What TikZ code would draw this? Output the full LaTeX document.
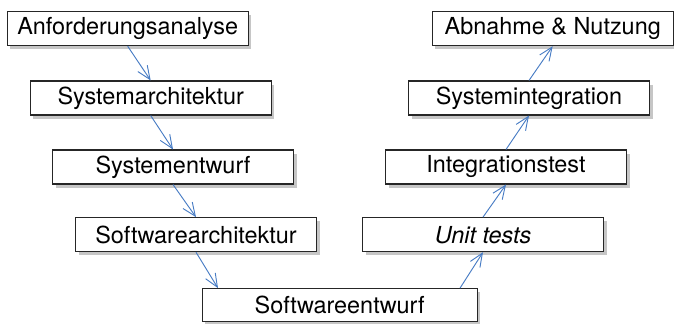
\documentclass[tikz,border=0pt]{standalone}
\usepackage{fontspec}
\setmainfont{TeX Gyre Heros}
\usepackage{tikz}
\usetikzlibrary{arrows.meta,shadows,positioning,calc}
\definecolor{flowblue}{RGB}{72,124,196}

\begin{document}
\begin{tikzpicture}[-{Straight Barb[length=4mm,width=3.4mm]},
  phase/.style={draw=black!85,line width=0.9pt,fill=white,minimum width=7.23cm,
    minimum height=1.02cm,inner sep=0pt,
    font=\fontsize{20}{24}\selectfont,
    drop shadow={shadow xshift=0.09cm,shadow yshift=-0.11cm,opacity=0.45}},
  flow/.style={draw=flowblue,line width=0.8pt}]
\useasboundingbox (0,0) rectangle (20.22,-9.69);
\node[phase] (ana) at (3.83,-0.86) {Anforderungsanalyse};
\node[phase] (sysarch) at (4.52,-2.94) {Systemarchitektur};
\node[phase] (sysentw) at (5.19,-5.01) {Systementwurf};
\node[phase] (swarch) at (5.88,-7.04) {Softwarearchitektur};
\node[phase,minimum width=8.25cm,minimum height=0.99cm] (swentw) at (10.19,-9.14) {Softwareentwurf};
\node[phase] (unit) at (14.49,-7.04) {\itshape Unit tests};
\node[phase] (inttest) at (15.18,-5.01) {Integrationstest};
\node[phase] (sysint) at (15.87,-2.94) {Systemintegration};
\node[phase] (abn) at (16.58,-0.86) {Abnahme \& Nutzung};
\coordinate (swentwin) at (6.54,-8.645);
\coordinate (swentwout) at (13.80,-8.645);
\draw[flow] (ana.south) -- (sysarch.north);
\draw[flow] (sysarch.south) -- (sysentw.north);
\draw[flow] (sysentw.south) -- (swarch.north);
\draw[flow] (swarch.south) -- (swentwin);
\draw[flow] (swentwout) -- (unit.south);
\draw[flow] (unit.north) -- (inttest.south);
\draw[flow] (inttest.north) -- (sysint.south);
\draw[flow] (sysint.north) -- (abn.south);
\end{tikzpicture}
\end{document}
